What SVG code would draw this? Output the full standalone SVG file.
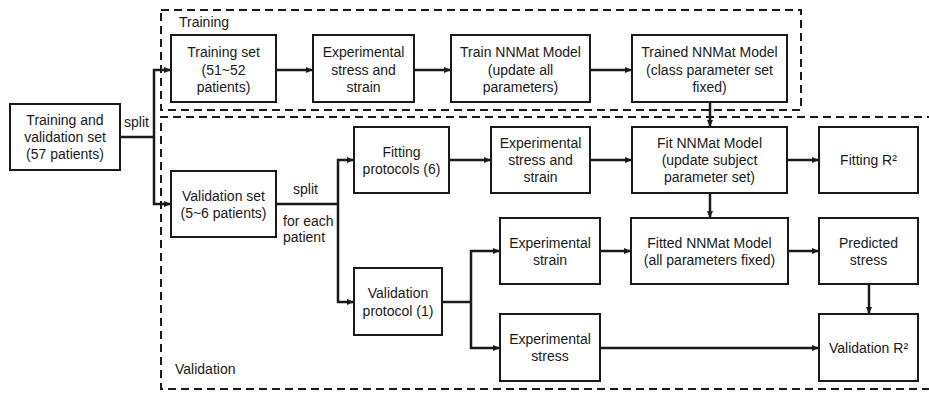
<svg xmlns="http://www.w3.org/2000/svg" width="929" height="395" viewBox="0 0 929 395">
<style>
.box{fill:#fff;stroke:#1a1a1a;stroke-width:2}
.dash{fill:none;stroke:#1a1a1a;stroke-width:2;stroke-dasharray:8 5}
.c{fill:none;stroke:#1a1a1a;stroke-width:2.5;marker-end:url(#ah)}
.cn{fill:none;stroke:#1a1a1a;stroke-width:2.5}
text{font-family:"Liberation Sans",Arial,sans-serif;font-size:14px;fill:#1a1a1a}
.m{text-anchor:middle}
</style>
<defs>
<marker id="ah" markerUnits="userSpaceOnUse" markerWidth="8" markerHeight="8" refX="7" refY="4" orient="auto">
<path d="M0,1 L7,4 L0,7 Z" fill="#1a1a1a"/>
</marker>
</defs>
<g id="regions">
<rect class="dash" x="161" y="10" width="640" height="100"/>
<path class="dash" d="M935,117 H161 V389 H935"/>
<text x="179" y="27">Training</text>
<text x="175" y="374">Validation</text>
</g>
<g id="connectors">
<path class="cn" d="M120,137 H154"/>
<path class="c" d="M154,137 V70 H171"/>
<path class="c" d="M154,137 V204 H171"/>
<path class="c" d="M276,70 H313"/>
<path class="c" d="M414,70 H451"/>
<path class="c" d="M590,70 H632"/>
<path class="c" d="M710,102 V127"/>
<path class="cn" d="M276,204 H338"/>
<path class="c" d="M338,204 V160 H354"/>
<path class="c" d="M338,204 V302 H354"/>
<path class="c" d="M449,160 H491"/>
<path class="c" d="M590,160 H632"/>
<path class="c" d="M787,160 H819"/>
<path class="c" d="M710,193 V218"/>
<path class="cn" d="M442,302 H471"/>
<path class="c" d="M471,302 V251 H500"/>
<path class="c" d="M471,302 V348 H500"/>
<path class="c" d="M600,251 H631"/>
<path class="c" d="M788,251 H819"/>
<path class="c" d="M869,284 V314"/>
<path class="c" d="M600,348 H819"/>
<text x="124" y="127">split</text>
<text x="293" y="194">split</text>
<text x="283" y="226">for each</text>
<text x="283" y="242">patient</text>
</g>
<g id="n_trainval">
<rect class="box" x="10" y="104" width="110" height="66"/>
<text class="m" x="65" y="125">Training and</text>
<text class="m" x="65" y="142">validation set</text>
<text class="m" x="65" y="159">(57 patients)</text>
</g>
<g id="n_trainset">
<rect class="box" x="171" y="35" width="105" height="67"/>
<text class="m" x="223.5" y="57">Training set</text>
<text class="m" x="223.5" y="74.5">(51~52</text>
<text class="m" x="223.5" y="92">patients)</text>
</g>
<g id="n_expss1">
<rect class="box" x="313" y="35" width="101" height="67"/>
<text class="m" x="363.5" y="57">Experimental</text>
<text class="m" x="363.5" y="74.5">stress and</text>
<text class="m" x="363.5" y="92">strain</text>
</g>
<g id="n_train">
<rect class="box" x="451" y="35" width="139" height="67"/>
<text class="m" x="520.5" y="57">Train NNMat Model</text>
<text class="m" x="520.5" y="74.5">(update all</text>
<text class="m" x="520.5" y="92">parameters)</text>
</g>
<g id="n_trained">
<rect class="box" x="632" y="35" width="155" height="67"/>
<text class="m" x="709.5" y="57">Trained NNMat Model</text>
<text class="m" x="709.5" y="74.5">(class parameter set</text>
<text class="m" x="709.5" y="92">fixed)</text>
</g>
<g id="n_valset">
<rect class="box" x="171" y="171" width="105" height="66"/>
<text class="m" x="223.5" y="201">Validation set</text>
<text class="m" x="223.5" y="218">(5~6 patients)</text>
</g>
<g id="n_fitprot">
<rect class="box" x="354" y="127" width="95" height="66"/>
<text class="m" x="401.5" y="157">Fitting</text>
<text class="m" x="401.5" y="174">protocols (6)</text>
</g>
<g id="n_expss2">
<rect class="box" x="491" y="127" width="99" height="66"/>
<text class="m" x="540.5" y="148">Experimental</text>
<text class="m" x="540.5" y="165">stress and</text>
<text class="m" x="540.5" y="182">strain</text>
</g>
<g id="n_fit">
<rect class="box" x="632" y="127" width="155" height="66"/>
<text class="m" x="709.5" y="148">Fit NNMat Model</text>
<text class="m" x="709.5" y="165">(update subject</text>
<text class="m" x="709.5" y="182">parameter set)</text>
</g>
<g id="n_fitr2">
<rect class="box" x="819" y="127" width="99" height="66"/>
<text class="m" x="868.5" y="165">Fitting R²</text>
</g>
<g id="n_valprot">
<rect class="box" x="354" y="268" width="88" height="67"/>
<text class="m" x="398" y="298">Validation</text>
<text class="m" x="398" y="316">protocol (1)</text>
</g>
<g id="n_expstrain">
<rect class="box" x="500" y="218" width="100" height="66"/>
<text class="m" x="550" y="248">Experimental</text>
<text class="m" x="550" y="265">strain</text>
</g>
<g id="n_expstress">
<rect class="box" x="500" y="314" width="100" height="67"/>
<text class="m" x="550" y="344">Experimental</text>
<text class="m" x="550" y="361">stress</text>
</g>
<g id="n_fitted">
<rect class="box" x="631" y="218" width="157" height="66"/>
<text class="m" x="709.5" y="248">Fitted NNMat Model</text>
<text class="m" x="709.5" y="265">(all parameters fixed)</text>
</g>
<g id="n_pred">
<rect class="box" x="819" y="218" width="99" height="66"/>
<text class="m" x="868.5" y="248">Predicted</text>
<text class="m" x="868.5" y="265">stress</text>
</g>
<g id="n_valr2">
<rect class="box" x="819" y="314" width="99" height="67"/>
<text class="m" x="868.5" y="353">Validation R²</text>
</g>
</svg>
